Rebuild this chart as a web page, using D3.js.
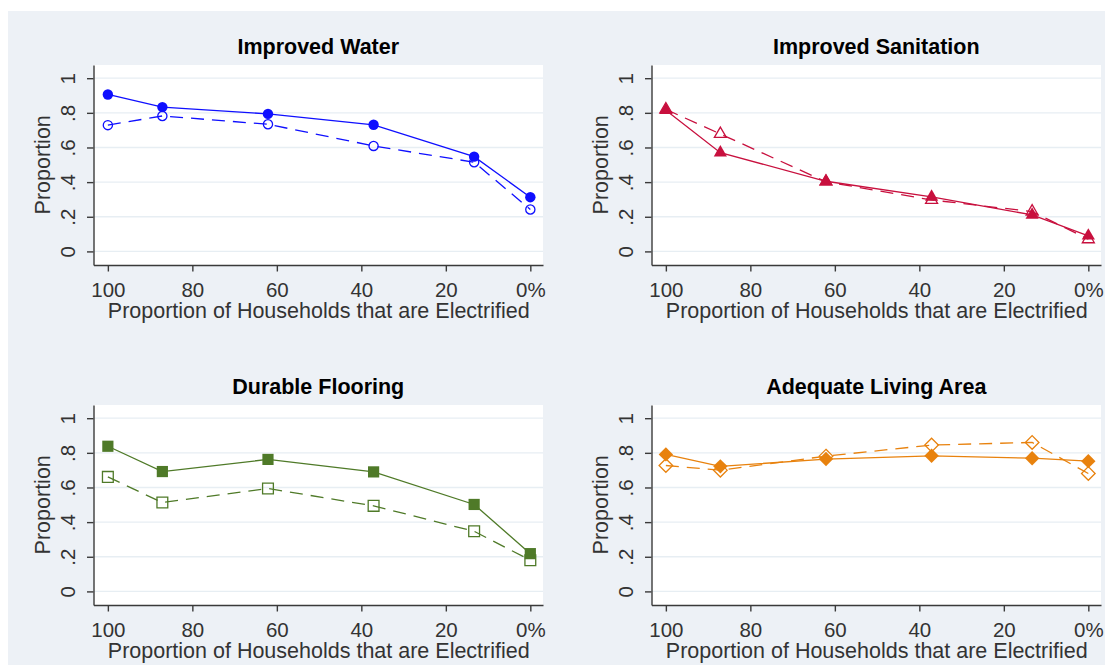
<!DOCTYPE html>
<html>
<head>
<meta charset="utf-8">
<script src="https://cdn.jsdelivr.net/npm/d3@7"></script>
<style>
  html, body { margin: 0; padding: 0; background: #ffffff; }
  svg { display: block; }
  text { font-family: "Liberation Sans", Arial, sans-serif; }
</style>
</head>
<body>
<svg id="chart" width="1110" height="667"></svg>
<script>
// ---- data ----
const electrified = [100, 87.1, 62.1, 37.1, 13.3, 0];
const xTicks = [100, 80, 60, 40, 20, 0];
const xTickLabels = ["100", "80", "60", "40", "20", "0%"];
const yTicks = [0, 0.2, 0.4, 0.6, 0.8, 1];
const yTickLabels = ["0", ".2", ".4", ".6", ".8", "1"];

const panelTitles = ["Improved Water", "Improved Sanitation", "Durable Flooring", "Adequate Living Area"];

const waterSolid  = [0.906, 0.833, 0.794, 0.731, 0.547, 0.313];
const waterHollow = [0.729, 0.782, 0.734, 0.609, 0.515, 0.242];
const sanitSolid  = [0.815, 0.570, 0.405, 0.315, 0.211, 0.090];
const sanitHollow = [0.820, 0.678, 0.402, 0.297, 0.230, 0.070];
const floorSolid  = [0.838, 0.692, 0.762, 0.690, 0.502, 0.218];
const floorHollow = [0.661, 0.513, 0.594, 0.494, 0.347, 0.180];
const areaSolid   = [0.791, 0.722, 0.764, 0.783, 0.769, 0.752];
const areaHollow  = [0.727, 0.700, 0.781, 0.845, 0.860, 0.681];

const panels = [
  { title: panelTitles[0], solid: waterSolid, hollow: waterHollow, color: "#0f0fff", marker: "circle", col: 0, row: 0 },
  { title: panelTitles[1], solid: sanitSolid, hollow: sanitHollow, color: "#c8103e", marker: "triangle", col: 1, row: 0 },
  { title: panelTitles[2], solid: floorSolid, hollow: floorHollow, color: "#4f7a28", marker: "square", col: 0, row: 1 },
  { title: panelTitles[3], solid: areaSolid, hollow: areaHollow, color: "#e8820e", marker: "diamond", col: 1, row: 1 }
];

// ---- layout ----
const svg = d3.select("#chart");
svg.append("rect").attr("x", 8).attr("y", 11).attr("width", 1097).attr("height", 654).attr("fill", "#edf1f6");

const colOffset = [0, 558];
const rowOffset = [0, 340];
const plotL = 93.5, plotR = 543, plotT = 65, plotB = 265;

function markerPath(type) {
  if (type === "circle") return d3.symbol().type(d3.symbolCircle).size(Math.PI * 5.2 * 5.2)();
  if (type === "triangle") return "M0,-7.6L6.6,3.8L-6.6,3.8Z";
  if (type === "square") return "M-5.6,-5.6H5.6V5.6H-5.6Z";
  return "M0,-7.2L7.2,0L0,7.2L-7.2,0Z";
}
function hollowPath(type) {
  if (type === "circle") return d3.symbol().type(d3.symbolCircle).size(Math.PI * 4.6 * 4.6)();
  if (type === "triangle") return "M0,-6.9L6,3.45L-6,3.45Z";
  if (type === "square") return "M-5.4,-5.4H5.4V5.4H-5.4Z";
  return "M0,-6.8L6.8,0L0,6.8L-6.8,0Z";
}

panels.forEach(p => {
  const g = svg.append("g").attr("transform", `translate(${colOffset[p.col]},${rowOffset[p.row]})`);
  const x = d3.scaleLinear().domain([103.4, -3.0]).range([plotL, plotR]);
  const y = d3.scaleLinear().domain([-0.0785, 1.0762]).range([plotB, plotT]);

  g.append("rect").attr("x", plotL).attr("y", plotT).attr("width", plotR - plotL).attr("height", plotB - plotT).attr("fill", "#ffffff");

  // grid
  g.selectAll(".grid").data(yTicks).enter().append("line")
    .attr("x1", plotL).attr("x2", plotR)
    .attr("y1", d => y(d)).attr("y2", d => y(d))
    .attr("stroke", "#e7eef3").attr("stroke-width", 1.3);

  // title
  g.append("text").attr("x", (plotL + plotR) / 2).attr("y", 54.3)
    .attr("text-anchor", "middle").attr("font-size", 21.5).attr("font-weight", "bold")
    .attr("fill", "#000").text(p.title);

  // axes
  const yAxis = d3.axisLeft(y).tickValues(yTicks).tickSize(6.5).tickSizeOuter(0)
    .tickFormat((d, i) => yTickLabels[i]);
  const ya = g.append("g").attr("transform", `translate(${plotL},0)`).call(yAxis);
  ya.selectAll("text").attr("x", 0).attr("dy", 0)
    .attr("transform", "translate(-19,0) rotate(-90)")
    .attr("text-anchor", "middle").attr("font-size", 20.5).attr("fill", "#333");

  const xAxis = d3.axisBottom(x).tickValues(xTicks).tickSize(6.5).tickSizeOuter(0)
    .tickFormat((d, i) => xTickLabels[i]);
  const xa = g.append("g").attr("transform", `translate(0,${plotB})`).call(xAxis);
  xa.selectAll("text").attr("y", 31.7).attr("dy", 0)
    .attr("font-size", 20.5).attr("fill", "#333");

  [ya, xa].forEach(a => {
    a.select(".domain").attr("stroke", "#3a3a3a").attr("stroke-width", 1.4);
    a.selectAll(".tick line").attr("stroke", "#3a3a3a").attr("stroke-width", 1.4);
  });

  // axis titles
  g.append("text").attr("x", (plotL + plotR) / 2 + 0.5).attr("y", 317.5)
    .attr("text-anchor", "middle").attr("font-size", 21.5).attr("fill", "#333")
    .text("Proportion of Households that are Electrified");
  g.append("text").attr("transform", `translate(49.5,${(y(0) + y(1)) / 2}) rotate(-90)`)
    .attr("text-anchor", "middle").attr("font-size", 21.5).attr("fill", "#333")
    .text("Proportion");

  // series
  const line = d3.line().x((d, i) => x(electrified[i])).y(d => y(d));
  g.append("path").datum(p.solid).attr("d", line)
    .attr("fill", "none").attr("stroke", p.color).attr("stroke-width", 1.3);
  g.append("path").datum(p.hollow).attr("d", line)
    .attr("fill", "none").attr("stroke", p.color).attr("stroke-width", 1.3)
    .attr("stroke-dasharray", "13,8");

  g.selectAll(".ms").data(p.solid).enter().append("path")
    .attr("transform", (d, i) => `translate(${x(electrified[i])},${y(d)})`)
    .attr("d", markerPath(p.marker)).attr("fill", p.color);
  g.selectAll(".mh").data(p.hollow).enter().append("path")
    .attr("transform", (d, i) => `translate(${x(electrified[i])},${y(d)})`)
    .attr("d", hollowPath(p.marker)).attr("fill", "none")
    .attr("stroke", p.color).attr("stroke-width", 1.3);
});
</script>
</body>
</html>
